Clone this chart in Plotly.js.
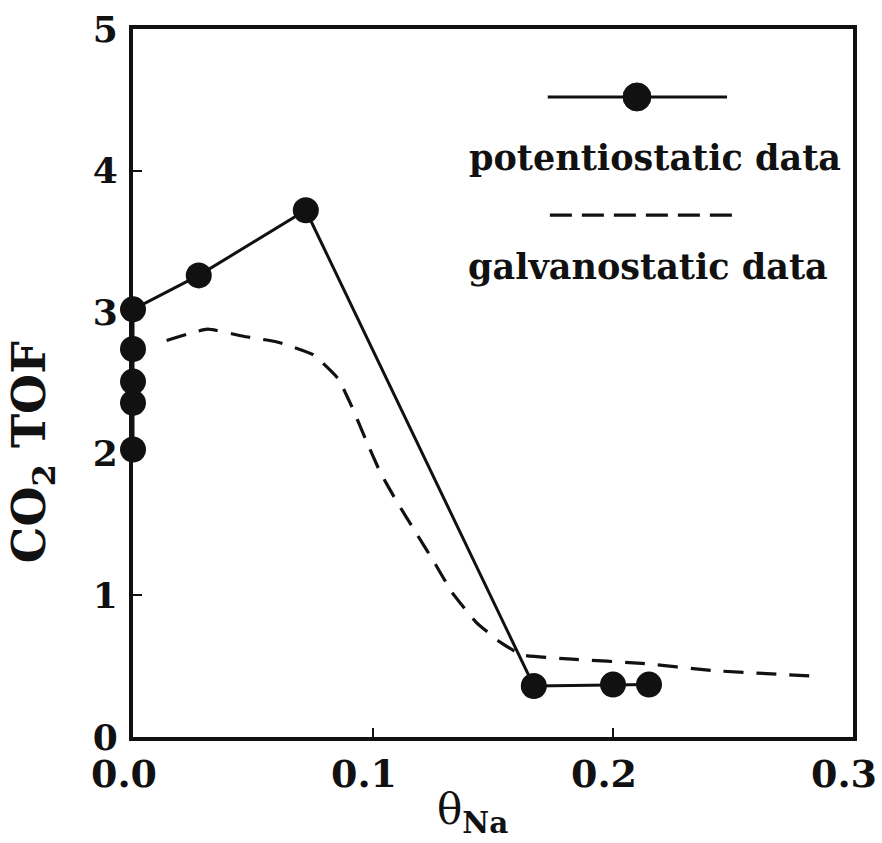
<!DOCTYPE html>
<html>
<head>
<meta charset="utf-8">
<script src="https://cdn.plot.ly/plotly-3.0.1.min.js"></script>
<style>html,body{margin:0;padding:0;background:#fff;}</style>
</head>
<body>
<div id="chart" style="width:882px;height:843px;"></div>
<script>
// potentiostatic data (connected, filled circles)
var potX = [0, 0, 0, 0, 0, 0.0274, 0.072, 0.167, 0.200, 0.215];
var potY = [2.03, 2.36, 2.51, 2.74, 3.02, 3.26, 3.72, 0.36, 0.37, 0.37];
// galvanostatic data (dashed curve)
var galX = [0.014, 0.031, 0.046, 0.060, 0.075, 0.0855, 0.091, 0.097, 0.103, 0.110, 0.118, 0.126, 0.133, 0.143, 0.153, 0.162, 0.183, 0.212, 0.241, 0.284];
var galY = [2.80, 2.88, 2.83, 2.79, 2.70, 2.53, 2.34, 2.10, 1.87, 1.66, 1.44, 1.22, 1.02, 0.81, 0.67, 0.58, 0.55, 0.52, 0.47, 0.43];
var xTicks = [0, 0.1, 0.2, 0.3];
var xTickText = ['0.0', '0.1', '0.2', '0.3'];
var yTicks = [0, 1, 2, 3, 4, 5];
var yTickText = ['0', '1', '2', '3', '4', '5'];

var FONT = 'DejaVu Serif';
var INK = '#111';

var traces = [
  {x: galX, y: galY, mode: 'lines', type: 'scatter',
   line: {color: INK, width: 3.2, dash: '20px,13px', shape: 'spline', smoothing: 0.4},
   hoverinfo: 'skip', showlegend: false},
  {x: potX, y: potY, mode: 'lines+markers', type: 'scatter', cliponaxis: false,
   line: {color: INK, width: 3},
   marker: {color: INK, size: 26},
   hoverinfo: 'skip', showlegend: false}
];

var layout = {
  width: 882, height: 843,
  margin: {l: 133, r: 29, t: 29, b: 106},
  paper_bgcolor: '#fff', plot_bgcolor: '#fff',
  showlegend: false,
  xaxis: {
    range: [0, 0.3], tickvals: xTicks, ticktext: xTickText,
    ticks: 'inside', ticklen: 9, tickwidth: 2, tickcolor: INK,
    showline: true, linecolor: INK, linewidth: 4, mirror: true,
    showgrid: false, zeroline: false,
    ticklabeloverflow: 'allow', ticklabelshift: -9,
    tickfont: {family: FONT, size: 38, color: INK, weight: 'bold'}
  },
  yaxis: {
    range: [0, 5], tickvals: yTicks, ticktext: yTickText,
    ticks: 'inside', ticklen: 9, tickwidth: 2, tickcolor: INK,
    showline: true, linecolor: INK, linewidth: 4, mirror: true,
    showgrid: false, zeroline: false,
    ticklabelstandoff: 4,
    tickfont: {family: FONT, size: 36, color: INK, weight: 'bold'}
  },
  shapes: [
    {type: 'line', xref: 'paper', yref: 'paper', x0: 0.576, x1: 0.825, y0: 0.904, y1: 0.904,
     line: {color: INK, width: 3}},
    {type: 'circle', xref: 'paper', yref: 'paper', x0: 0.700 - 0.0194, x1: 0.700 + 0.0194,
     y0: 0.904 - 0.0198, y1: 0.904 + 0.0198, fillcolor: INK, line: {color: INK, width: 1}},
    {type: 'line', xref: 'paper', yref: 'paper', x0: 0.579, x1: 0.836, y0: 0.737, y1: 0.737,
     line: {color: INK, width: 3.2, dash: '22px,10px'}}
  ],
  annotations: [
    {xref: 'paper', yref: 'paper', x: 0.725, y: 0.818, xanchor: 'center', yanchor: 'middle', showarrow: false,
     text: '<b>potentiostatic data</b>', font: {family: FONT, size: 35, color: INK}},
    {xref: 'paper', yref: 'paper', x: 0.715, y: 0.665, xanchor: 'center', yanchor: 'middle', showarrow: false,
     text: '<b>galvanostatic data</b>', font: {family: FONT, size: 35, color: INK}},
    {xref: 'paper', yref: 'paper', x: -0.140, y: 0.4025, xanchor: 'center', yanchor: 'middle', showarrow: false, textangle: -90,
     text: '<b>CO<sub>2</sub> TOF</b>', font: {family: FONT, size: 46, color: INK}},
    {xref: 'paper', yref: 'paper', x: 0.471, y: -0.106, xanchor: 'center', yanchor: 'middle', showarrow: false,
     text: 'θ<sub><b>Na</b></sub>', font: {family: FONT, size: 42, color: INK}}
  ]
};

Plotly.newPlot('chart', traces, layout, {displayModeBar: false, staticPlot: true});
</script>
</body>
</html>
